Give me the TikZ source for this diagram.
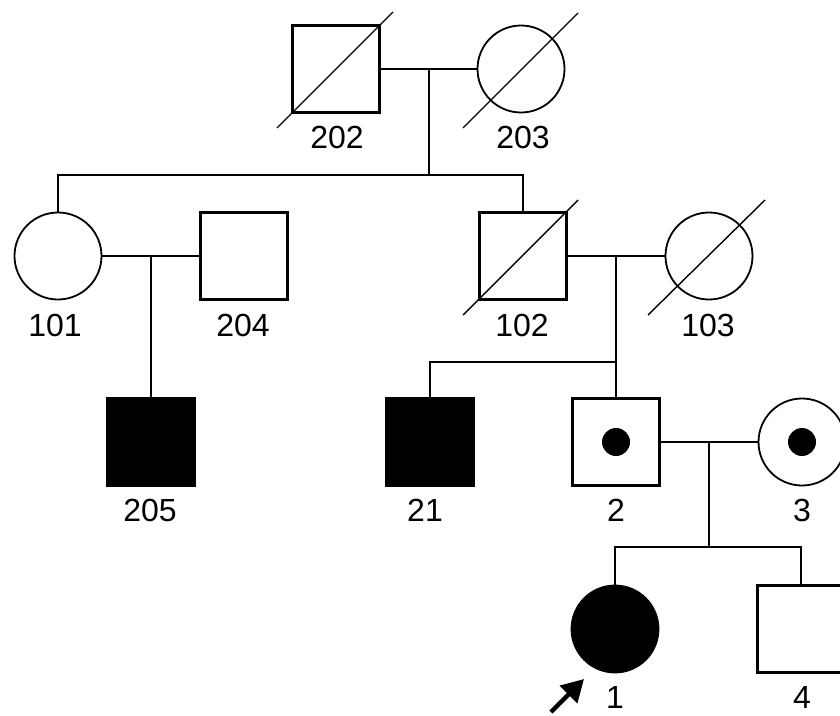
\documentclass[tikz,border=0pt]{standalone}
\usepackage{fontspec}
\setmainfont{Liberation Sans}
\usetikzlibrary{calc,arrows.meta}
\tikzset{
  male/.style={draw, line width=2.2pt, minimum size=87pt, inner sep=0pt, fill=white},
  female/.style={circle, draw, line width=1.8pt, minimum size=87pt, inner sep=0pt, fill=white},
  affected/.style={fill=black},
  link/.style={line width=2.2pt},
  slash/.style={line width=1.4pt},
  idlabel/.style={font=\fontsize{32}{32}\selectfont, inner sep=0pt},
  carrierdot/.style={circle, fill=black, minimum size=28pt, inner sep=0pt},
  proband/.style={line width=4.5pt, -{Triangle[length=22pt,width=24pt]}},
}
\begin{document}
\begin{tikzpicture}[x=1pt,y=-1pt]
\useasboundingbox (0,0) rectangle (840,715);
\clip (0,0) rectangle (840,715);

% generation I
\node[male]   (p202) at (336,69) {};
\node[female] (p203) at (521,69) {};
% generation II
\node[female] (p101) at (58,256) {};
\node[male]   (p204) at (244,256) {};
\node[male]   (p102) at (523,256) {};
\node[female] (p103) at (709,256) {};
% generation III
\node[male,affected] (p205) at (151,442) {};
\node[male,affected] (p21)  at (430,442) {};
\node[male]   (p2) at (616,442) {};
\node[female] (p3) at (802,442) {};
% generation IV
\node[female,affected] (p1) at (615,629) {};
\node[male]   (p4) at (801,629) {};

% carrier dots
\node[carrierdot] (d2) at (p2.center) {};
\node[carrierdot] (d3) at (p3.center) {};

% mating lines and descents
\coordinate (m1) at ($(p202.east)!0.5!(p203.west)$);
\coordinate (s1) at (m1 |- 0,175);
\draw[link] (p202.east) -- (p203.west);
\draw[link] (m1) -- (s1);
\draw[link] (p101.north) |- (s1) -| (p102.north);

\coordinate (m2) at ($(p101.east)!0.5!(p204.west)$);
\draw[link] (p101.east) -- (p204.west);
\draw[link] (m2) -- (m2 |- p205.north);

\coordinate (m3) at ($(p102.east)!0.5!(p103.west)$);
\coordinate (s2) at (m3 |- 0,362);
\draw[link] (p102.east) -- (p103.west);
\draw[link] (m3) -- (m3 |- p2.north);
\draw[link] (p21.north) |- (s2);

\coordinate (m4) at ($(p2.east)!0.5!(p3.west)$);
\coordinate (s3) at (m4 |- 0,547);
\draw[link] (p2.east) -- (p3.west);
\draw[link] (m4) -- (s3);
\draw[link] (p1.north) |- (s3) -| (p4.north);

% deceased slashes
\draw[slash] ($(p202.center)+(-59,59)$) -- ($(p202.center)+(57,-57)$);
\draw[slash] ($(p203.center)+(-58,59)$) -- ($(p203.center)+(57,-56)$);
\draw[slash] ($(p102.center)+(-60,59)$) -- ($(p102.center)+(55,-56)$);
\draw[slash] ($(p103.center)+(-61,59)$) -- ($(p103.center)+(56,-56)$);

% identifiers
\node[idlabel] (l202) at (337,137) {202};
\node[idlabel] (l203) at (523,137) {203};
\node[idlabel] (l101) at (55,325) {101};
\node[idlabel] (l204) at (243,325) {204};
\node[idlabel] (l102) at (522,325) {102};
\node[idlabel] (l103) at (708,325) {103};
\node[idlabel] (l205) at (150,510) {205};
\node[idlabel] (l21)  at (425,510) {21};
\node[idlabel] (l2)   at (616,510) {2};
\node[idlabel] (l3)   at (802,510) {3};
\node[idlabel] (l1)   at (615,697) {1};
\node[idlabel] (l4)   at (802,697) {4};

% proband arrow
\coordinate (ptail) at (551,712);
\coordinate (phead) at (584,679);
\draw[proband] (ptail) -- (phead);
\end{tikzpicture}
\end{document}
